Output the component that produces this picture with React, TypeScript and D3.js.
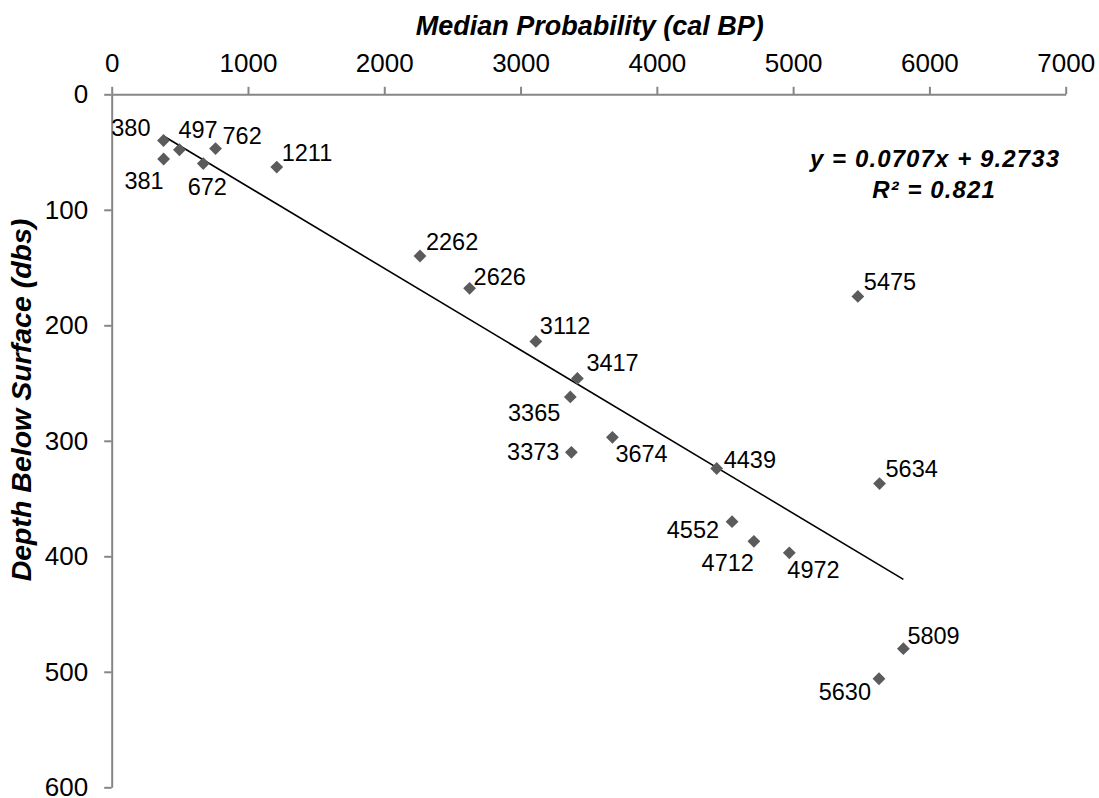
import React, {useEffect, useRef} from 'react';
import * as d3 from "d3";

// median probability (cal BP) and depth below surface (dbs)
const ages = [380, 381, 497, 672, 762, 1211, 2262, 2626, 3112, 3365, 3373, 3417, 3674, 4439, 4552, 4712, 4972, 5475, 5630, 5634, 5809];
const depths = [40, 56, 48, 60, 47, 63, 140, 168, 214, 262, 310, 246, 297, 324, 370, 387, 397, 175, 506, 337, 480];
const xTicks = [0, 1000, 2000, 3000, 4000, 5000, 6000, 7000];
const yTicks = [0, 100, 200, 300, 400, 500, 600];
const slope = 0.0707;
const intercept = 9.2733;
const rSquared = 0.821;

// where each data label sits relative to its marker: [anchor, dx, dy]
const labelPlace: Record<number, [string, number, number]> = {
    380: ["end", -13, -5],
    381: ["end", 0, 30],
    497: ["start", -1, -12],
    672: ["middle", 4, 31],
    762: ["start", 7, -5],
    1211: ["start", 5, -6],
    2262: ["start", 6, -6],
    2626: ["start", 4, -3],
    3112: ["start", 4, -7],
    3365: ["end", -10, 24],
    3373: ["end", -12, 8],
    3417: ["start", 9, -7],
    3674: ["start", 3, 25],
    4439: ["start", 7, -1],
    4552: ["end", -13, 16],
    4712: ["end", 0, 30],
    4972: ["start", -2, 25],
    5475: ["start", 6, -6],
    5630: ["end", -8, 21],
    5634: ["start", 6, -7],
    5809: ["start", 4, -5],
};

const width = 1099;
const height = 798;
const font = "'Liberation Sans', Arial, sans-serif";
const axisColor = "#868686";

const App = () => {
    const svgRef = useRef(null);

    useEffect(() => {
        const svg = d3.select(svgRef.current);
        svg.selectAll("*").remove();

        const x = d3.scaleLinear().domain([0, 7000]).range([111.7, 1065.7]);
        const y = d3.scaleLinear().domain([0, 600]).range([94.3, 787.3]);

        // top axis
        const gx = svg.append("g")
            .attr("transform", `translate(0, ${y(0)})`)
            .call(d3.axisTop(x).tickValues(xTicks).tickSize(7.5).tickSizeOuter(0).tickPadding(15).tickFormat(d3.format("d")));
        gx.selectAll("text").attr("font-size", 26).attr("fill", "#000").attr("font-family", font);

        // left axis
        const gy = svg.append("g")
            .attr("transform", `translate(${x(0)}, 0)`)
            .call(d3.axisLeft(y).tickValues(yTicks).tickSize(7.5).tickSizeOuter(0).tickPadding(16).tickFormat(d3.format("d")));
        gy.selectAll("text").attr("font-size", 26).attr("fill", "#000").attr("font-family", font);

        svg.selectAll(".domain, .tick line").attr("stroke", axisColor).attr("stroke-width", 2);

        // linear trendline over the data range
        const [x0, x1] = d3.extent(ages);
        svg.append("line")
            .attr("x1", x(x0)).attr("y1", y(slope * x0 + intercept))
            .attr("x2", x(x1)).attr("y2", y(slope * x1 + intercept))
            .attr("stroke", "#000").attr("stroke-width", 1.6);

        const pts = ages.map((a, i) => ({age: a, depth: depths[i]}));
        const diamond = d3.symbol(d3.symbolSquare, 82);

        svg.append("g").selectAll("path")
            .data(pts)
            .enter()
            .append("path")
            .attr("d", diamond)
            .attr("transform", d => `translate(${x(d.age)}, ${y(d.depth)}) rotate(45)`)
            .attr("fill", "#5b5b5b");

        svg.append("g").selectAll("text")
            .data(pts)
            .enter()
            .append("text")
            .attr("x", d => x(d.age) + labelPlace[d.age][1])
            .attr("y", d => y(d.depth) + labelPlace[d.age][2])
            .attr("text-anchor", d => labelPlace[d.age][0])
            .attr("font-family", font)
            .attr("font-size", 23.5)
            .attr("fill", "#000")
            .text(d => d.age);

        // equation
        const eq = svg.append("g")
            .attr("font-family", font)
            .attr("font-size", 24)
            .attr("font-weight", "bold")
            .attr("font-style", "italic")
            .attr("text-anchor", "middle")
            .attr("letter-spacing", 1.1);
        eq.append("text").attr("x", 935).attr("y", 167).text(`y = ${slope}x + ${intercept}`);
        eq.append("text").attr("x", 934).attr("y", 198).text(`R² = ${rSquared}`);

        // axis titles
        svg.append("text")
            .attr("x", (x(0) + x(7000)) / 2 + 1)
            .attr("y", 35)
            .attr("text-anchor", "middle")
            .attr("font-family", font)
            .attr("font-size", 27)
            .attr("font-weight", "bold")
            .attr("font-style", "italic")
            .text("Median Probability (cal BP)");

        svg.append("text")
            .attr("transform", "translate(31, 400) rotate(-90)")
            .attr("text-anchor", "middle")
            .attr("font-family", font)
            .attr("font-size", 28.5)
            .attr("font-weight", "bold")
            .attr("font-style", "italic")
            .text("Depth Below Surface (dbs)");
    }, []);

    return <svg ref={svgRef} width={width} height={height}
                style={{position: "absolute", left: 0, top: 0, background: "#fff"}}/>;
};

export default App;
